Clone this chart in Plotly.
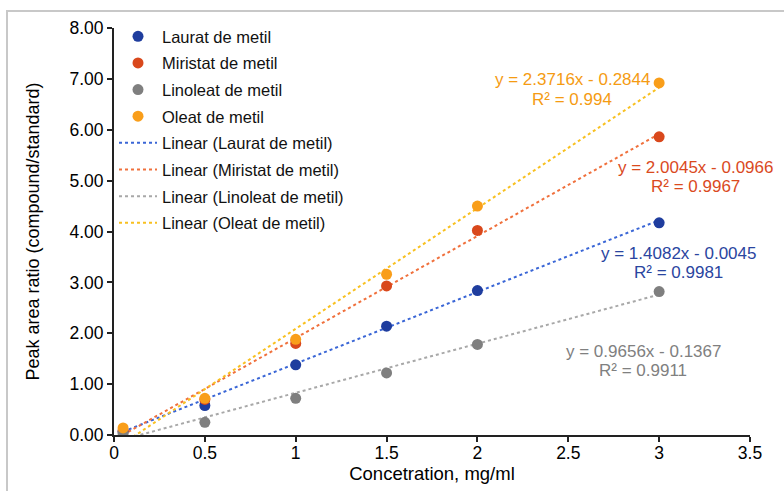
import numpy as np
import plotly.graph_objects as go

conc = [0.05, 0.5, 1.0, 1.5, 2.0, 3.0]
series_names = ["Laurat de metil", "Miristat de metil", "Linoleat de metil", "Oleat de metil"]
laurat = [0.07, 0.58, 1.38, 2.14, 2.84, 4.17]
miristat = [0.08, 0.70, 1.80, 2.93, 4.02, 5.86]
linoleat = [0.03, 0.25, 0.72, 1.22, 1.78, 2.82]
oleat = [0.14, 0.72, 1.88, 3.16, 4.50, 6.92]
slopes = [1.4082, 2.0045, 0.9656, 2.3716]
intercepts = [-0.0045, -0.0966, -0.1367, -0.2844]
r2 = ["0.9981", "0.9967", "0.9911", "0.994"]

marker_colors = ["#1F3D9E", "#D9481C", "#7F7F7F", "#F99E1A"]
line_colors = ["#3A66D6", "#F0703C", "#A8A8A8", "#F8C020"]
text_colors = ["#2A45A0", "#DA4A1E", "#808080", "#F59B12"]
values = [laurat, miristat, linoleat, oleat]

FONT = "Liberation Sans, Arial, sans-serif"

fig = go.Figure()
# trendlines first (drawn below), ranked after markers in legend
for i, (name, m, b, c) in enumerate(zip(series_names, slopes, intercepts, line_colors)):
    xs = np.linspace(conc[0], conc[-1], 200)
    fig.add_trace(go.Scatter(x=xs, y=m * xs + b, mode="lines", name=f"Linear ({name})",
                             legendrank=10 + i, legendgroup=f"l{i}",
                             line=dict(color=c, width=2, dash="dot")))
for i, (name, v, c) in enumerate(zip(series_names, values, marker_colors)):
    fig.add_trace(go.Scatter(x=conc, y=v, mode="markers", name=name,
                             legendrank=1 + i, legendgroup=f"m{i}",
                             marker=dict(color=c, size=11)))

ann_pos = [(678, 253), (695, 168), (643, 351), (572, 80)]
L, R, T, B = 114, 750, 28, 435
def px2paper(px, py):
    return (px - L) / (R - L), (B - py) / (B - T)

for (px, py), m, b, rr, c in zip(ann_pos, slopes, intercepts, r2, text_colors):
    sign = "-" if b < 0 else "+"
    for txt, dy in ((f"y = {m:.4f}x {sign} {abs(b):.4f}", 0), (f"R² = {rr}", 19)):
        ax, ay = px2paper(px, py + dy)
        fig.add_annotation(x=ax, y=ay, xref="paper", yref="paper", showarrow=False,
                           xanchor="center", yanchor="middle", text=txt,
                           font=dict(family=FONT, size=17, color=c))

x0, y0 = px2paper(7, 11)
x1, y1 = px2paper(800, 520)
fig.add_shape(type="rect", xref="paper", yref="paper", x0=x0, y0=y1, x1=x1, y1=y0,
              line=dict(color="#C8C8C8", width=2), layer="below")

fig.update_layout(
    width=784, height=491,
    margin=dict(l=L, r=784 - R, t=T, b=491 - B),
    paper_bgcolor="white", plot_bgcolor="white",
    font=dict(family=FONT, size=17, color="#000000"),
    showlegend=True,
    legend=dict(x=0.0, y=1.022, xanchor="left", yanchor="top",
                font=dict(family=FONT, size=16.5, color="#111111"),
                bgcolor="rgba(0,0,0,0)", tracegroupgap=2.2, itemwidth=38,
                traceorder="grouped"),
    xaxis=dict(range=[0, 3.5], dtick=0.5, tick0=0, showgrid=False, zeroline=False,
               showline=True, linecolor="#222222", linewidth=2, automargin=False,
               ticks="outside", ticklen=5, tickwidth=2, tickcolor="#222222",
               ticklabelstandoff=-4,
               tickfont=dict(size=17.5),
               title=dict(text="Concetration, mg/ml", font=dict(size=18.5), standoff=4)),
    yaxis=dict(range=[0, 8], dtick=1, tick0=0, tickformat=".2f", showgrid=False, zeroline=False,
               showline=True, linecolor="#222222", linewidth=2, automargin=False,
               ticks="outside", ticklen=5, tickwidth=2, tickcolor="#222222",
               tickfont=dict(size=17.5),
               title=dict(text="Peak area ratio (compound/standard)", font=dict(size=18), standoff=25)),
)

fig.write_html("out.html")
